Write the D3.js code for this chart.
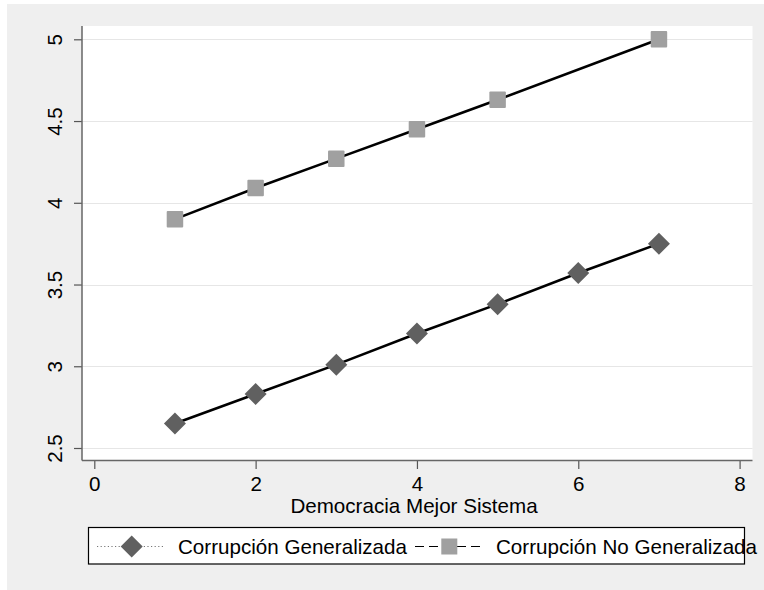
<!DOCTYPE html>
<html>
<head>
<meta charset="utf-8">
<script src="https://cdn.jsdelivr.net/npm/d3@7"></script>
<style>
  html, body { margin: 0; padding: 0; background: #ffffff; }
  svg { display: block; }
  text { font-family: "Liberation Sans", Arial, Helvetica, sans-serif; fill: #000; }
</style>
</head>
<body>
<script>
// ---- Data ----
const xLabel = "Democracia Mejor Sistema";
const seriesNames = ["Corrupción Generalizada", "Corrupción No Generalizada"];
const xGen = [1, 2, 3, 4, 5, 6, 7];
const yGen = [2.65, 2.83, 3.01, 3.20, 3.38, 3.57, 3.75];
const xNoGen = [1, 2, 3, 4, 5, 7];
const yNoGen = [3.90, 4.09, 4.27, 4.45, 4.63, 5.00];
const xTicks = [0, 2, 4, 6, 8];
const yTicks = [2.5, 3, 3.5, 4, 4.5, 5];

const W = 764, H = 590;
const FS = 20.6;
const svg = d3.select("body").append("svg").attr("width", W).attr("height", H);

// outer grey background
svg.append("rect").attr("x", 7).attr("y", 4).attr("width", W - 7).attr("height", H - 4)
  .attr("fill", "#efefef");

const plot = { left: 82, right: 752.5, top: 26, bottom: 460.5 };
svg.append("rect").attr("x", plot.left).attr("y", plot.top)
  .attr("width", plot.right - plot.left).attr("height", plot.bottom - plot.top)
  .attr("fill", "#ffffff");

const x = d3.scaleLinear().domain([0, 8]).range([94.3, 739.6]);
const y = d3.scaleLinear().domain([2.5, 5]).range([448, 39.3]);

// gridlines
svg.append("g").selectAll("line").data(yTicks).join("line")
  .attr("x1", plot.left).attr("x2", plot.right)
  .attr("y1", d => Math.round(y(d)) + 0.5).attr("y2", d => Math.round(y(d)) + 0.5)
  .attr("stroke", "#e6e6e6").attr("stroke-width", 1.2);

// y axis
const yAxis = d3.axisLeft(y).tickValues(yTicks).tickSize(8).tickFormat(d3.format("~g"));
const gy = svg.append("g").attr("transform", `translate(${plot.left},0)`).call(yAxis);
gy.select(".domain").remove();
gy.selectAll(".tick line").attr("stroke", "#555").attr("stroke-width", 1.2);
gy.selectAll(".tick text")
  .attr("font-size", FS).attr("fill", "#000")
  .attr("text-anchor", "middle")
  .attr("x", 0).attr("dy", 0)
  .attr("transform", "translate(-20,0) rotate(-90)");
svg.append("line").attr("x1", plot.left).attr("x2", plot.left)
  .attr("y1", plot.top).attr("y2", plot.bottom)
  .attr("stroke", "#666").attr("stroke-width", 1.5);

// x axis
const xAxis = d3.axisBottom(x).tickValues(xTicks).tickSize(8).tickPadding(7).tickFormat(d3.format("d"));
const gx = svg.append("g").attr("transform", `translate(0,${plot.bottom + 0.5})`).call(xAxis);
gx.select(".domain").remove();
gx.selectAll(".tick line").attr("stroke", "#555").attr("stroke-width", 1.2);
gx.selectAll(".tick text").attr("font-size", FS).attr("fill", "#000");
svg.append("line").attr("x1", plot.left).attr("x2", plot.right)
  .attr("y1", plot.bottom).attr("y2", plot.bottom)
  .attr("stroke", "#666").attr("stroke-width", 1.5);

// x label
svg.append("text").attr("x", 414).attr("y", 513).attr("text-anchor", "middle")
  .attr("font-size", FS).text(xLabel);

// lines
const line = d3.line().x(d => x(d[0])).y(d => y(d[1]));
const genData = xGen.map((v, i) => [v, yGen[i]]);
const noGenData = xNoGen.map((v, i) => [v, yNoGen[i]]);
[genData, noGenData].forEach(dd => {
  svg.append("path").datum(dd).attr("d", line)
    .attr("fill", "none").attr("stroke", "#000").attr("stroke-width", 2.6);
});

// markers
const dsz = 11;
svg.append("g").selectAll("path").data(genData).join("path")
  .attr("d", d => `M${x(d[0])},${y(d[1]) - dsz}L${x(d[0]) + dsz},${y(d[1])}L${x(d[0])},${y(d[1]) + dsz}L${x(d[0]) - dsz},${y(d[1])}Z`)
  .attr("fill", "#606060");
const ssz = 16.5;
svg.append("g").selectAll("rect").data(noGenData).join("rect")
  .attr("x", d => x(d[0]) - ssz / 2).attr("y", d => y(d[1]) - ssz / 2)
  .attr("width", ssz).attr("height", ssz).attr("rx", 1)
  .attr("fill", "#a0a0a0");

// legend
const lg = svg.append("g");
lg.append("rect").attr("x", 88.5).attr("y", 527.5).attr("width", 656).attr("height", 36.5)
  .attr("fill", "#fff").attr("stroke", "#000").attr("stroke-width", 1.2);
const ly = 546.5;
lg.append("line").attr("x1", 97).attr("x2", 164).attr("y1", ly).attr("y2", ly)
  .attr("stroke", "#777").attr("stroke-width", 1).attr("stroke-dasharray", "1.2,2.4");
lg.append("path")
  .attr("d", `M131.7,${ly - 11}L142.7,${ly}L131.7,${ly + 11}L120.7,${ly}Z`)
  .attr("fill", "#606060");
lg.append("text").attr("x", 178).attr("y", 554).attr("font-size", FS).text(seriesNames[0]);
lg.append("line").attr("x1", 415).attr("x2", 481).attr("y1", ly).attr("y2", ly)
  .attr("stroke", "#000").attr("stroke-width", 1.2).attr("stroke-dasharray", "9,5");
lg.append("rect").attr("x", 449.3 - 8).attr("y", ly - 8).attr("width", 16).attr("height", 16)
  .attr("fill", "#a0a0a0");
lg.append("text").attr("x", 496).attr("y", 554).attr("font-size", FS).text(seriesNames[1]);
</script>
</body>
</html>
